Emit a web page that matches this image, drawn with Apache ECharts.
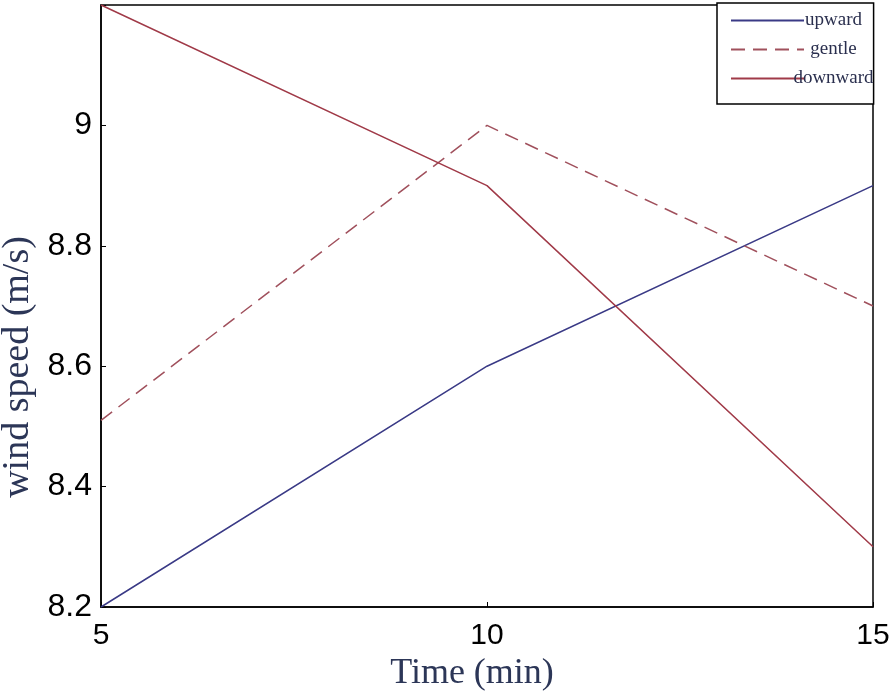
<!DOCTYPE html>
<html>
<head>
<meta charset="utf-8">
<script src="https://cdn.jsdelivr.net/npm/echarts@6/dist/echarts.min.js"></script>
<style>
  html, body { margin: 0; padding: 0; background: #fff; }
  #chart { width: 894px; height: 694px; }
</style>
</head>
<body>
<div id="chart"></div>
<script>
  // data
  const times = [5, 10, 15];
  const upward = [8.2, 8.6, 8.9];
  const gentle = [8.51, 9.0, 8.7];
  const downward = [9.2, 8.9, 8.3];

  const pairs = (ys) => times.map((t, i) => [t, ys[i]]);

  const chart = echarts.init(document.getElementById('chart'));
  chart.setOption({
    animation: false,
    grid: {
      left: 101, right: 21, top: 5, bottom: 87,
      outerBoundsMode: 'none',
      show: true, borderColor: '#000', borderWidth: 1.5
    },
    legend: {
      orient: 'vertical',
      left: 717, top: 3,
      padding: [8, 0, 16, 13],
      itemGap: 10,
      itemWidth: 73,
      itemHeight: 20,
      backgroundColor: '#fff',
      borderColor: '#000',
      borderWidth: 1.5,
      itemStyle: { opacity: 0 },
      formatter: (name) => '{t|' + name + '}',
      textStyle: {
        rich: {
          t: { fontFamily: 'Liberation Serif', fontSize: 19, color: '#2a2f4e', width: 75, align: 'center', padding: [0, 0, 0, -13] }
        }
      },
      data: ['upward', 'gentle', 'downward']
    },
    xAxis: {
      type: 'value',
      min: 5, max: 15, interval: 5,
      name: 'Time (min)',
      nameLocation: 'middle',
      nameGap: 48,
      nameTextStyle: { fontFamily: 'Liberation Serif', fontSize: 36, color: '#2c3657', padding: [0, 30, 0, 0] },
      axisLine: { lineStyle: { color: '#000', width: 1.5 } },
      axisTick: { inside: true, length: 5, lineStyle: { color: '#000' } },
      axisLabel: { fontFamily: 'Liberation Sans', fontSize: 30, color: '#000', margin: 14 },
      splitLine: { show: false }
    },
    yAxis: {
      type: 'value',
      min: 8.2, max: 9.2, interval: 0.2,
      name: 'wind speed (m/s)',
      nameLocation: 'middle',
      nameGap: 47,
      nameTextStyle: { fontFamily: 'Liberation Serif', fontSize: 38, color: '#2c3657', padding: [0, 122, 0, 0] },
      axisLine: { lineStyle: { color: '#000', width: 1.5 } },
      axisTick: { inside: true, length: 5, lineStyle: { color: '#000' } },
      axisLabel: {
        fontFamily: 'Liberation Sans', fontSize: 32, color: '#000', margin: 9,
        formatter: (v) => v > 9.15 ? '' : String(+v.toFixed(1))
      },
      splitLine: { show: false }
    },
    series: [
      {
        name: 'upward', type: 'line', symbol: 'none', data: pairs(upward),
        lineStyle: { color: '#3a3a86', width: 1.5 }, itemStyle: { color: '#3a3a86' }
      },
      {
        name: 'gentle', type: 'line', symbol: 'none', data: pairs(gentle),
        lineStyle: { color: '#a0505c', width: 1.5, type: [14, 8] }, itemStyle: { color: '#a0505c' }
      },
      {
        name: 'downward', type: 'line', symbol: 'none', data: pairs(downward),
        lineStyle: { color: '#a03a48', width: 1.5 }, itemStyle: { color: '#a03a48' }
      }
    ]
  });
</script>
</body>
</html>
